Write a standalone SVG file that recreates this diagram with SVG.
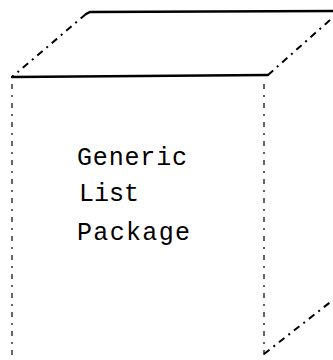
<svg xmlns="http://www.w3.org/2000/svg" width="333" height="360" viewBox="0 0 333 360">
  <style>
    .solid { stroke: #000; stroke-width: 2.4; fill: none; stroke-linecap: round; }
    .diag { stroke: #000; stroke-width: 2; fill: none; stroke-dasharray: 7 5 2 5; }
    .vert { stroke: #000; stroke-width: 1.2; fill: none; stroke-dasharray: 5 6 2 6; }
    .label { font-family: "Liberation Mono", "DejaVu Sans Mono", monospace; font-size: 25px; fill: #000; }
  </style>
  <rect width="333" height="360" fill="#fff"/>
  <g id="connectors">
    <!-- top face -->
    <path class="solid" d="M 12 77 L 268 75"/>
    <path class="solid" d="M 86 14 L 90 12 L 333 11"/>
    <path class="diag" d="M 86 14 L 12 77"/>
    <path class="diag" d="M 330 20 L 268 75"/>
    <!-- vertical edges -->
    <path class="vert" d="M 12 84 L 12 360"/>
    <path class="vert" d="M 264 84 L 264 358"/>
    <!-- bottom right edge -->
    <path class="diag" d="M 264 354 L 333 300"/>
  </g>
  <g id="package">
    <text class="label" x="77" y="165" textLength="110">Generic</text>
    <text class="label" x="79" y="201">List</text>
    <text class="label" x="77" y="240" textLength="113">Package</text>
  </g>
</svg>
